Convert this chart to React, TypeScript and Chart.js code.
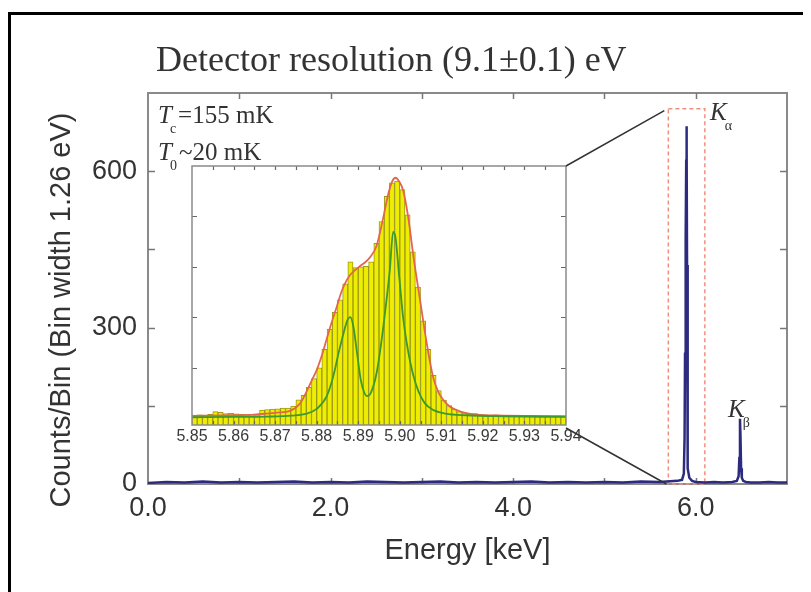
import React, { useEffect, useRef } from 'react';
import { Chart, registerables } from 'chart.js';

Chart.register(...registerables);

// ---------- Main spectrum (energy in keV, counts per 1.26 eV bin) ----------
const SPECTRUM_ENERGY = [
  0.0, 0.2, 0.4, 0.6, 0.8, 1.0, 1.2, 1.4, 1.6, 1.8,
  2.0, 2.2, 2.4, 2.6, 2.8, 3.0, 3.2, 3.4, 3.6, 3.8,
  4.0, 4.2, 4.4, 4.6, 4.8, 5.0, 5.2, 5.4, 5.6, 5.8,
  5.85, 5.87, 5.878, 5.883, 5.888, 5.892, 5.896, 5.899, 5.902, 5.905,
  5.909, 5.915, 5.93, 5.96, 6.0, 6.1, 6.2, 6.3, 6.4, 6.45,
  6.47, 6.478, 6.485, 6.49, 6.497, 6.505, 6.52, 6.55, 6.6, 6.7,
  6.8, 6.9, 7.0,
];
const SPECTRUM_COUNTS = [
  2, 4, 3, 5, 3, 4, 3, 4, 5, 3,
  4, 3, 5, 4, 3, 4, 5, 3, 4, 3,
  4, 5, 3, 4, 3, 4, 3, 5, 4, 6,
  8, 20, 90, 250, 430, 470, 620, 686, 640, 420,
  120, 30, 12, 6, 4, 3, 4, 3, 4, 6,
  15, 50, 125, 95, 30, 12, 6, 4, 3, 3,
  4, 3, 3,
];

// ---------- Inset: K-alpha histogram (bin centres in keV, counts) ----------
const INSET_BIN_CENTERS = [
  5.850625, 5.851875, 5.853125, 5.854375, 5.855625, 5.856875, 5.858125, 5.859375,
  5.860625, 5.861875, 5.863125, 5.864375, 5.865625, 5.866875, 5.868125, 5.869375,
  5.870625, 5.871875, 5.873125, 5.874375, 5.875625, 5.876875, 5.878125, 5.879375,
  5.880625, 5.881875, 5.883125, 5.884375, 5.885625, 5.886875, 5.888125, 5.889375,
  5.890625, 5.891875, 5.893125, 5.894375, 5.895625, 5.896875, 5.898125, 5.899375,
  5.900625, 5.901875, 5.903125, 5.904375, 5.905625, 5.906875, 5.908125, 5.909375,
  5.910625, 5.911875, 5.913125, 5.914375, 5.915625, 5.916875, 5.918125, 5.919375,
  5.920625, 5.921875, 5.923125, 5.924375, 5.925625, 5.926875, 5.928125, 5.929375,
  5.930625, 5.931875, 5.933125, 5.934375, 5.935625, 5.936875, 5.938125, 5.939375,
];
const INSET_COUNTS = [
  8, 10, 9, 12, 20, 18, 14, 15,
  13, 12, 11, 12, 10, 24, 26, 27,
  28, 30, 30, 36, 55, 68, 92, 118,
  150, 205, 265, 315, 352, 400, 465, 448,
  450, 452, 465, 520, 585, 660, 700, 705,
  680, 605, 495, 390, 290, 205, 128, 82,
  54, 38, 27, 20, 16, 13, 14, 11,
  10, 9, 10, 8, 9, 7, 8, 8,
  7, 8, 7, 6, 7, 6, 7, 6,
];

// Total fit (red)
const FIT_ENERGY = [
  5.85, 5.855, 5.86, 5.865, 5.868, 5.8705, 5.8736, 5.876, 5.8776, 5.8788,
  5.88, 5.8812, 5.8824, 5.8836, 5.8848, 5.8858, 5.8868, 5.888, 5.8892, 5.8904,
  5.8916, 5.8928, 5.8944, 5.896, 5.8972, 5.8982, 5.899, 5.8998, 5.9008, 5.902,
  5.9033, 5.9049, 5.9065, 5.908, 5.9092, 5.9105, 5.912, 5.9137, 5.916, 5.919,
  5.925, 5.93, 5.94,
];
const FIT_COUNTS = [
  7, 8, 9, 11, 14, 17, 22, 44, 80, 112,
  143, 185, 235, 285, 330, 370, 400, 425, 440, 452,
  463, 478, 512, 595, 665, 705, 715, 705, 678, 600,
  480, 350, 222, 123, 80, 54, 35, 24, 15, 10,
  8, 7, 6,
];

// Natural line shape (green)
const LINE_ENERGY = [
  5.85, 5.86, 5.868, 5.874, 5.8776, 5.88, 5.8824, 5.884, 5.8852, 5.8864,
  5.8874, 5.8881, 5.8888, 5.8896, 5.8906, 5.8914, 5.8921, 5.893, 5.8944, 5.8956,
  5.8966, 5.8976, 5.8984, 5.899, 5.8998, 5.9008, 5.902, 5.9032, 5.9045, 5.906,
  5.908, 5.911, 5.916, 5.925, 5.94,
];
const LINE_COUNTS = [
  3, 4, 5, 8, 14, 28, 65, 125, 190, 250,
  292, 301, 275, 205, 115, 78, 66, 75, 133, 230,
  330, 440, 554, 535, 430, 300, 200, 130, 80, 45,
  25, 14, 9, 6, 4,
];

// Tick labels
const MAIN_X_LABELED = [0, 2, 4, 6];
const MAIN_Y_LABELED = [0, 300, 600];
const INSET_X_LABELS = [5.85, 5.86, 5.87, 5.88, 5.89, 5.9, 5.91, 5.92, 5.93, 5.94];

// Annotation values
const ZOOM_BOX = { xMin: 5.7, xMax: 6.1, yMin: 0, yMax: 720 };

const SANS = '"Liberation Sans", Arial, sans-serif';
const SERIF = '"Liberation Serif", "Times New Roman", serif';
const TEXT = '#333333';
const FRAME = '#8a8a8a';
const NAVY = '#2c2b7f';
const YELLOW = '#f0ee00';
const OLIVE = '#9a981a';
const RED = '#e4654f';
const GREEN = '#3d9a2e';

function drawSubText(
  ctx: CanvasRenderingContext2D,
  x: number,
  y: number,
  base: string,
  sub: string,
  rest: string,
  size: number
) {
  ctx.textAlign = 'left';
  ctx.textBaseline = 'alphabetic';
  ctx.font = `italic ${size}px ${SERIF}`;
  ctx.fillText(base, x, y);
  const w = ctx.measureText(base).width;
  ctx.font = `${Math.round(size * 0.55)}px ${SERIF}`;
  ctx.fillText(sub, x + w - 2, y + size * 0.38);
  const ws = ctx.measureText(sub).width;
  if (rest) {
    ctx.font = `${size}px ${SERIF}`;
    ctx.fillText(rest, x + w + ws, y);
  }
}

function drawInwardTicks(chart: any, xLen: number, yLen: number, color: string, width: number, yTicks?: number[]) {
  const { ctx, chartArea: a, scales } = chart;
  const xs = scales.x;
  const ys = scales.y;
  ctx.save();
  ctx.strokeStyle = color;
  ctx.lineWidth = width;
  ctx.beginPath();
  xs.ticks.forEach((t: any) => {
    if (t.value <= xs.min + 1e-9 || t.value >= xs.max - 1e-9) return;
    const px = Math.round(xs.getPixelForValue(t.value)) + 0.5;
    ctx.moveTo(px, a.bottom);
    ctx.lineTo(px, a.bottom - xLen);
    ctx.moveTo(px, a.top);
    ctx.lineTo(px, a.top + xLen);
  });
  const yVals = yTicks || ys.ticks.map((t: any) => t.value);
  yVals.forEach((v: number) => {
    if (v <= ys.min + 1e-9 || v >= ys.max - 1e-9) return;
    const py = Math.round(ys.getPixelForValue(v)) + 0.5;
    ctx.moveTo(a.left, py);
    ctx.lineTo(a.left + yLen, py);
    ctx.moveTo(a.right, py);
    ctx.lineTo(a.right - yLen, py);
  });
  ctx.stroke();
  ctx.restore();
}

const mainDecor = {
  id: 'mainDecor',
  beforeDatasetsDraw(chart: any) {
    const { ctx, chartArea: a, scales } = chart;
    ctx.save();
    // outer black border (left and top)
    ctx.fillStyle = '#000';
    ctx.fillRect(0, 4, 3, chart.height - 4);
    ctx.fillRect(0, 4, chart.width, 3);
    // plot frame
    ctx.strokeStyle = FRAME;
    ctx.lineWidth = 2;
    ctx.strokeRect(a.left, a.top, a.right - a.left, a.bottom - a.top);
    ctx.restore();
    drawInwardTicks(chart, 6, 7, '#777', 1.5);
    // dashed zoom box
    const x1 = scales.x.getPixelForValue(ZOOM_BOX.xMin);
    const x2 = scales.x.getPixelForValue(ZOOM_BOX.xMax);
    const y1 = scales.y.getPixelForValue(ZOOM_BOX.yMax);
    const y2 = scales.y.getPixelForValue(ZOOM_BOX.yMin);
    ctx.save();
    ctx.strokeStyle = '#f2907e';
    ctx.lineWidth = 1.5;
    ctx.setLineDash([4, 3]);
    ctx.strokeRect(x1, y1, x2 - x1, y2 - y1);
    ctx.restore();
  },
  afterDraw(chart: any) {
    const { ctx, chartArea: a } = chart;
    ctx.save();
    ctx.fillStyle = TEXT;
    // title
    ctx.font = `36px ${SERIF}`;
    ctx.textAlign = 'left';
    ctx.textBaseline = 'alphabetic';
    ctx.fillText('Detector resolution (9.1\u00b10.1) eV', 148, 63);
    // x title
    ctx.font = `29px ${SANS}`;
    ctx.textAlign = 'center';
    ctx.textBaseline = 'middle';
    ctx.fillText('Energy [keV]', (a.left + a.right) / 2, 543);
    // y title
    ctx.save();
    ctx.translate(54, 302);
    ctx.rotate(-Math.PI / 2);
    ctx.fillText('Counts/Bin (Bin width 1.26 eV)', 0, 0);
    ctx.restore();
    // temperature labels
    drawSubText(ctx, 150, 115, 'T', 'c', '=155 mK', 25);
    drawSubText(ctx, 150, 152, 'T', '0', '~20 mK', 25);
    // line labels
    drawSubText(ctx, 702, 112, 'K', '\u03b1', '', 25);
    drawSubText(ctx, 720, 409, 'K', '\u03b2', '', 25);
    ctx.restore();
  },
};

function makeInsetDecor(mainChart: Chart) {
  return {
    id: 'insetDecor',
    beforeDraw(chart: any) {
      const { ctx, chartArea: a } = chart;
      ctx.save();
      ctx.fillStyle = '#ffffff';
      ctx.fillRect(a.left, a.top, a.right - a.left, a.bottom - a.top);
      ctx.restore();
    },
    afterDatasetsDraw(chart: any) {
      const { ctx, chartArea: a } = chart;
      drawInwardTicks(chart, 4, 5, '#666', 1.2, [150, 300, 450, 600]);
      ctx.save();
      ctx.strokeStyle = FRAME;
      ctx.lineWidth = 1.5;
      ctx.strokeRect(a.left, a.top, a.right - a.left, a.bottom - a.top);
      ctx.restore();
    },
    afterDraw(chart: any) {
      const { ctx, chartArea: a } = chart;
      const ms: any = (mainChart as any).scales;
      const bx = ms.x.getPixelForValue(ZOOM_BOX.xMin);
      const by1 = ms.y.getPixelForValue(ZOOM_BOX.yMax);
      const by2 = ms.y.getPixelForValue(ZOOM_BOX.yMin);
      ctx.save();
      ctx.strokeStyle = '#333';
      ctx.lineWidth = 1.5;
      ctx.beginPath();
      ctx.moveTo(a.right, a.top);
      ctx.lineTo(bx - 4, by1 + 2);
      ctx.moveTo(a.right, a.bottom + 3);
      ctx.lineTo(bx - 2, by2);
      ctx.stroke();
      ctx.restore();
    },
  };
}

export default function App() {
  const mainRef = useRef<HTMLCanvasElement>(null);
  const insetRef = useRef<HTMLCanvasElement>(null);

  useEffect(() => {
    if (!mainRef.current || !insetRef.current) return;

    const main = new Chart(mainRef.current, {
      type: 'line',
      data: {
        datasets: [
          {
            data: SPECTRUM_ENERGY.map((e, i) => ({ x: e, y: SPECTRUM_COUNTS[i] })),
            borderColor: NAVY,
            backgroundColor: NAVY,
            borderWidth: 2.5,
            pointRadius: 0,
            tension: 0,
          },
        ],
      },
      options: {
        animation: false,
        responsive: false,
        devicePixelRatio: 1,
        events: [],
        layout: { padding: { left: 0, right: 24, top: 85, bottom: 0 } },
        plugins: { legend: { display: false }, tooltip: { enabled: false }, title: { display: false } },
        scales: {
          x: {
            type: 'linear',
            min: 0,
            max: 7,
            grid: { display: false, drawTicks: false },
            border: { display: false },
            ticks: {
              stepSize: 1,
              autoSkip: false,
              maxRotation: 0,
              padding: 8,
              color: TEXT,
              font: { family: SANS, size: 27 },
              callback: (v: any) => (MAIN_X_LABELED.includes(Number(v)) ? Number(v).toFixed(1) : ''),
            },
            afterFit: (s: any) => {
              s.height = 108;
            },
          },
          y: {
            type: 'linear',
            min: 0,
            max: 750,
            grid: { display: false, drawTicks: false },
            border: { display: false },
            ticks: {
              stepSize: 150,
              autoSkip: false,
              padding: 11,
              color: TEXT,
              font: { family: SANS, size: 27 },
              callback: (v: any) => (MAIN_Y_LABELED.includes(Number(v)) ? String(v) : ''),
            },
            afterFit: (s: any) => {
              s.width = 140;
            },
          },
        },
      } as any,
      plugins: [mainDecor as any],
    });

    const inset = new Chart(insetRef.current, {
      type: 'bar',
      data: {
        datasets: [
          {
            type: 'line',
            data: LINE_ENERGY.map((e, i) => ({ x: e, y: LINE_COUNTS[i] })),
            borderColor: GREEN,
            borderWidth: 1.8,
            pointRadius: 0,
            cubicInterpolationMode: 'monotone',
            order: 0,
          },
          {
            type: 'line',
            data: FIT_ENERGY.map((e, i) => ({ x: e, y: FIT_COUNTS[i] })),
            borderColor: RED,
            borderWidth: 1.8,
            pointRadius: 0,
            cubicInterpolationMode: 'monotone',
            order: 1,
          },
          {
            type: 'bar',
            data: INSET_BIN_CENTERS.map((e, i) => ({ x: e, y: INSET_COUNTS[i] })),
            backgroundColor: YELLOW,
            borderColor: OLIVE,
            borderWidth: 1,
            barPercentage: 1,
            categoryPercentage: 1,
            base: -20,
            order: 2,
          },
        ],
      } as any,
      options: {
        animation: false,
        responsive: false,
        devicePixelRatio: 1,
        events: [],
        layout: { padding: { left: 184, right: 245, top: 158, bottom: 0 } },
        plugins: { legend: { display: false }, tooltip: { enabled: false }, title: { display: false } },
        scales: {
          x: {
            type: 'linear',
            min: 5.85,
            max: 5.94,
            offset: false,
            grid: { display: false, drawTicks: false, offset: false },
            border: { display: false },
            ticks: {
              stepSize: 0.005,
              maxTicksLimit: 100,
              autoSkip: false,
              maxRotation: 0,
              padding: 2,
              color: '#3a3a3a',
              font: { family: SANS, size: 16 },
              callback: (v: any) => {
                const n = Number(v);
                const hit = INSET_X_LABELS.find((l) => Math.abs(l - n) < 1e-6);
                return hit !== undefined ? hit.toFixed(2) : '';
              },
            },
            afterFit: (s: any) => {
              s.height = 167;
            },
          },
          y: {
            type: 'linear',
            min: -20,
            max: 750,
            display: false,
          },
        },
      } as any,
      plugins: [makeInsetDecor(main) as any],
    });

    return () => {
      inset.destroy();
      main.destroy();
    };
  }, []);

  return (
    <div style={{ position: 'relative', width: 803, height: 584 }}>
      <canvas ref={mainRef} width={803} height={584} style={{ position: 'absolute', left: 0, top: 0 }} />
      <canvas ref={insetRef} width={803} height={584} style={{ position: 'absolute', left: 0, top: 0 }} />
    </div>
  );
}
